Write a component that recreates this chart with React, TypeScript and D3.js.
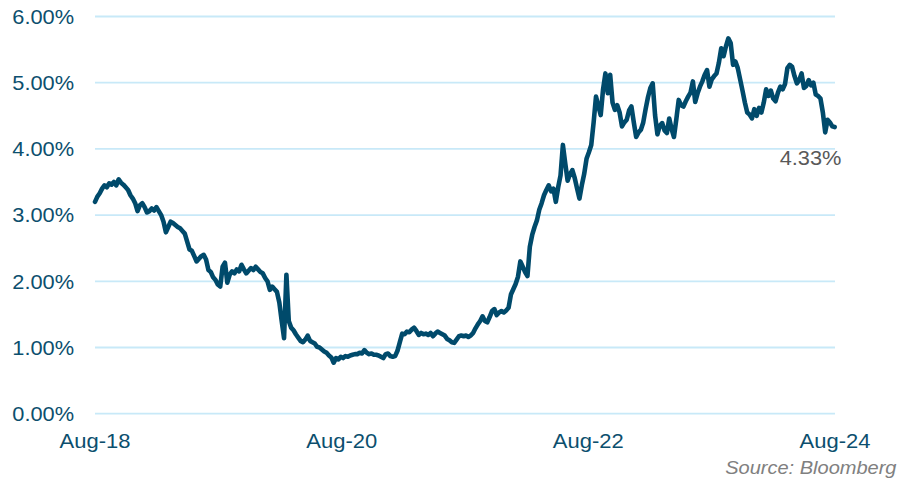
import * as d3 from "d3"

const W = 897
const H = 479
const START = new Date(2018, 7, 1)
const END = new Date(2024, 7, 1)

// weekly yield readings, Aug 2018 -> Aug 2024 (%)
const yields2018 = [
  3.20, 3.28, 3.33, 3.40, 3.45, 3.42, 3.48, 3.46, 3.50, 3.45, 3.54, 3.49, 3.46, 3.42, 3.38, 3.30, 3.25, 3.18, 3.06, 3.15,
  3.18, 3.12, 3.04, 3.06, 3.10, 3.07, 3.12, 3.06, 3.00, 2.90, 2.74, 2.82, 2.90, 2.88, 2.85, 2.82, 2.80, 2.76, 2.72, 2.60,
  2.48, 2.46, 2.38, 2.30, 2.34, 2.38, 2.40, 2.33, 2.17, 2.14, 2.06, 2.02,
]
const yields2019 = [
  1.95, 1.92, 2.22, 2.28, 1.98, 2.10, 2.15, 2.12, 2.18, 2.15, 2.25, 2.18, 2.12, 2.16, 2.20, 2.17, 2.22, 2.18, 2.14, 2.12,
  2.05, 2.00, 1.87, 1.92, 1.88, 1.84, 1.68, 1.40, 1.14, 2.10, 1.40, 1.30, 1.26, 1.20, 1.15, 1.10, 1.08, 1.12, 1.18, 1.10,
  1.08, 1.06, 1.01, 1.00, 0.97, 0.94, 0.92, 0.88, 0.85, 0.77, 0.84, 0.82,
]
const yields2020 = [
  0.86, 0.84, 0.87, 0.86, 0.88, 0.89, 0.90, 0.90, 0.92, 0.91, 0.96, 0.92, 0.90, 0.91, 0.89, 0.89, 0.88, 0.86, 0.84, 0.90,
  0.91, 0.87, 0.86, 0.87, 0.95, 1.08, 1.21, 1.20, 1.24, 1.23, 1.27, 1.30, 1.25, 1.19, 1.22, 1.20, 1.21, 1.19, 1.22, 1.17,
  1.21, 1.24, 1.22, 1.20, 1.18, 1.13, 1.11, 1.08, 1.07, 1.12, 1.17, 1.18,
]
const yields2021 = [
  1.17, 1.18, 1.16, 1.18, 1.22, 1.29, 1.35, 1.40, 1.47, 1.40, 1.38, 1.46, 1.55, 1.58, 1.49, 1.53, 1.55, 1.53, 1.56, 1.60,
  1.80, 1.88, 1.96, 2.07, 2.30, 2.22, 2.14, 2.08, 2.52, 2.70, 2.82, 2.92, 3.08, 3.18, 3.30, 3.38, 3.45, 3.36, 3.40, 3.20,
  3.42, 3.60, 4.06, 3.78, 3.52, 3.62, 3.68, 3.56, 3.40, 3.25, 3.45, 3.62,
]
const yields2022 = [
  3.85, 3.95, 4.06, 4.40, 4.79, 4.65, 4.51, 4.90, 5.14, 4.84, 5.12, 4.70, 4.59, 4.66, 4.55, 4.34, 4.40, 4.44, 4.58, 4.64,
  4.40, 4.18, 4.25, 4.29, 4.40, 4.60, 4.78, 4.92, 4.99, 4.51, 4.22, 4.35, 4.39, 4.28, 4.24, 4.46, 4.30, 4.18, 4.45, 4.74,
  4.66, 4.64, 4.72, 4.79, 4.85, 5.02, 4.71, 4.84, 4.94, 5.02, 5.12, 5.19,
]
const yields2023 = [
  4.94, 5.05, 5.10, 5.14, 5.30, 5.52, 5.40, 5.55, 5.67, 5.60, 5.27, 5.32, 5.22, 5.05, 4.88, 4.70, 4.55, 4.52, 4.46, 4.60,
  4.50, 4.62, 4.55, 4.70, 4.90, 4.80, 4.88, 4.76, 4.72, 4.85, 4.94, 4.90, 4.98, 5.22, 5.27, 5.24, 5.10, 4.99, 5.04, 5.14,
  4.92, 4.95, 5.04, 4.96, 5.00, 4.82, 4.80, 4.76, 4.55, 4.25, 4.44, 4.40, 4.34, 4.33,
]
const yields = [...yields2018, ...yields2019, ...yields2020, ...yields2021, ...yields2022, ...yields2023]

const yTicks = [0, 1, 2, 3, 4, 5, 6]
const xTickLabels = ["Aug-18", "Aug-20", "Aug-22", "Aug-24"]
const xTickDates = [new Date(2018, 7, 1), new Date(2020, 7, 1), new Date(2022, 7, 1), new Date(2024, 7, 1)]
const lastLabel = "4.33%"

const TEXT = "#0c4f6e"
const LINE = "#004a6b"
const GRID = "#c8e9f8"
const FONT = "'Liberation Sans', Arial, sans-serif"
const SX = 1.1

export default function App() {
  const x = d3.scaleTime().domain([START, END]).range([95, 835])
  const y = d3.scaleLinear().domain([0, 6]).range([413.7, 16.5])

  const data = yields.map((v, i) => ({ date: d3.timeWeek.offset(START, i), v }))
  const line = d3
    .line<{ date: Date; v: number }>()
    .x((d) => x(d.date))
    .y((d) => y(d.v))

  const last = data[data.length - 1]

  return (
    <svg width={W} height={H} style={{ position: "absolute", left: 0, top: 0, background: "#fff" }}>
      {yTicks.map((t) => (
        <g key={t}>
          <line x1={95} x2={835} y1={y(t)} y2={y(t)} stroke={GRID} strokeWidth={1.8} />
          <text
            transform={`translate(74,${y(t) + 7.3}) scale(${SX},1)`}
            textAnchor="end"
            fontFamily={FONT}
            fontSize={19.8}
            fill={TEXT}
          >
            {t.toFixed(2)}%
          </text>
        </g>
      ))}

      {xTickDates.map((d, i) => (
        <text
          key={xTickLabels[i]}
          transform={`translate(${x(d)},448.3) scale(${SX},1)`}
          textAnchor="middle"
          fontFamily={FONT}
          fontSize={20}
          fill={TEXT}
        >
          {xTickLabels[i]}
        </text>
      ))}

      <path d={line(data) ?? ""} fill="none" stroke={LINE} strokeWidth={4.6} strokeLinejoin="round" strokeLinecap="round" />

      <text
        transform={`translate(${x(last.date) - 55},164.5) scale(${SX},1)`}
        fontFamily={FONT}
        fontSize={19.8}
        fill="#595959"
      >
        {lastLabel}
      </text>

      <text
        transform={`translate(896.5,474) scale(${SX},1)`}
        textAnchor="end"
        fontFamily={FONT}
        fontStyle="italic"
        fontSize={18.2}
        fill="#808080"
      >
        Source: Bloomberg
      </text>
    </svg>
  )
}
